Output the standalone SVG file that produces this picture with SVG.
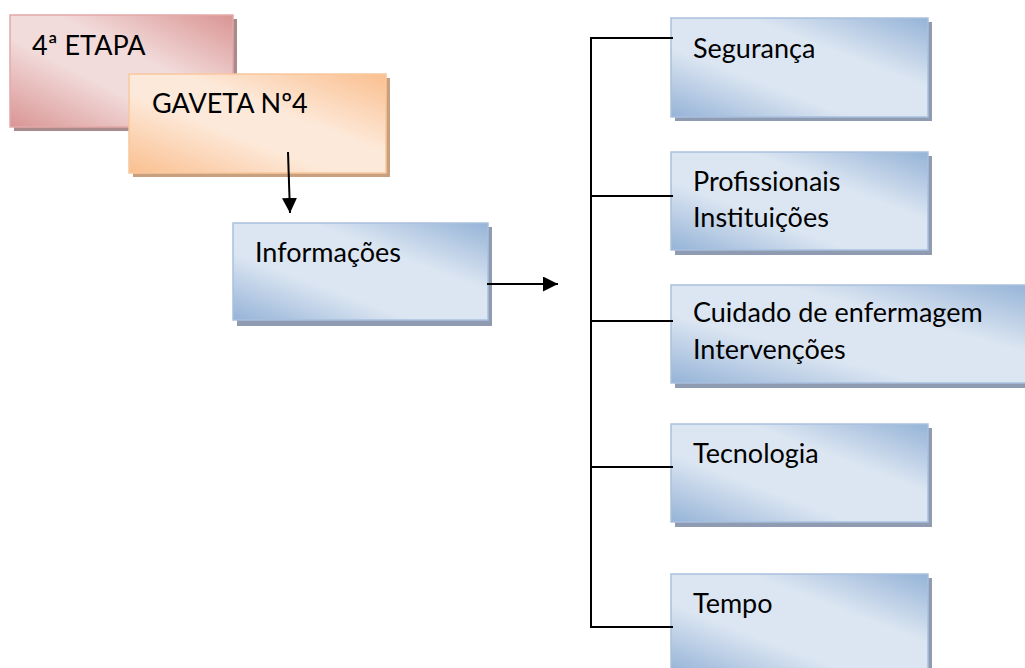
<svg xmlns="http://www.w3.org/2000/svg" width="1025" height="668" viewBox="0 0 1025 668">
<style>
  .t{font-family:Lato,"Liberation Sans",sans-serif;font-size:27px;fill:#000}
  .sb{fill:#8e9bb0}
  .sr{fill:#a98b8b}
  .so{fill:#c9a07e}
  .b{fill:url(#gb);stroke:#a9c0de;stroke-width:1.5}
  .r{fill:url(#gr);stroke:#e3a9a8;stroke-width:1.5}
  .o{fill:url(#go);stroke:#f8c89e;stroke-width:1.5}
  .c{fill:none;stroke:#000;stroke-width:2}
</style>
<defs>
  <linearGradient id="gb" x1="0" y1="1" x2="1" y2="0">
    <stop offset="0" stop-color="#95b3d7"/>
    <stop offset="0.35" stop-color="#dce6f2"/>
    <stop offset="0.65" stop-color="#dce6f2"/>
    <stop offset="1" stop-color="#95b3d7"/>
  </linearGradient>
  <linearGradient id="gr" x1="0" y1="1" x2="1" y2="0">
    <stop offset="0" stop-color="#d99594"/>
    <stop offset="0.4" stop-color="#f2dcdb"/>
    <stop offset="0.6" stop-color="#f2dcdb"/>
    <stop offset="1" stop-color="#d99594"/>
  </linearGradient>
  <linearGradient id="go" x1="0" y1="1" x2="1" y2="0">
    <stop offset="0" stop-color="#fabf8f"/>
    <stop offset="0.4" stop-color="#fde9d9"/>
    <stop offset="0.6" stop-color="#fde9d9"/>
    <stop offset="1" stop-color="#fabf8f"/>
  </linearGradient>
  <marker id="ah" viewBox="0 0 10 10" refX="10" refY="5" markerWidth="15" markerHeight="15" markerUnits="userSpaceOnUse" orient="auto">
    <path d="M0,0 L10,5 L0,10 z" fill="#000"/>
  </marker>
</defs>

<g id="etapa">
  <rect class="sr" x="14" y="19" width="223" height="112"/>
  <rect class="r" x="10" y="15" width="223" height="112"/>
  <text class="t" x="32" y="55">4ª ETAPA</text>
</g>
<g id="gaveta">
  <rect class="so" x="133" y="78" width="257" height="99"/>
  <rect class="o" x="129" y="74" width="257" height="99"/>
  <text class="t" x="152" y="113">GAVETA Nº4</text>
</g>
<g id="informacoes">
  <rect class="sb" x="237" y="227" width="255" height="99"/>
  <rect class="b" x="233" y="223" width="255" height="97"/>
  <text class="t" x="255" y="262">Informações</text>
</g>
<g id="seguranca">
  <rect class="sb" x="675" y="22" width="257" height="99"/>
  <rect class="b" x="671" y="18" width="257" height="99"/>
  <text class="t" x="693" y="58">Segurança</text>
</g>
<g id="profissionais">
  <rect class="sb" x="675" y="156" width="257" height="99"/>
  <rect class="b" x="671" y="152" width="257" height="98"/>
  <text class="t" x="693" y="191">Profissionais</text>
  <text class="t" x="693" y="227">Instituições</text>
</g>
<g id="cuidado">
  <rect class="sb" x="675" y="289" width="360" height="99"/>
  <rect class="b" x="671" y="285" width="360" height="98"/>
  <text class="t" x="693" y="322">Cuidado de enfermagem</text>
  <text class="t" x="693" y="359">Intervenções</text>
</g>
<g id="tecnologia">
  <rect class="sb" x="675" y="428" width="257" height="99"/>
  <rect class="b" x="671" y="424" width="257" height="98"/>
  <text class="t" x="693" y="463">Tecnologia</text>
</g>
<g id="tempo">
  <rect class="sb" x="675" y="578" width="257" height="99"/>
  <rect class="b" x="671" y="574" width="257" height="99"/>
  <text class="t" x="693" y="613">Tempo</text>
</g>

<g id="connectors">
  <line class="c" x1="288" y1="152" x2="290" y2="213" marker-end="url(#ah)"/>
  <line class="c" x1="487" y1="284" x2="558" y2="284" marker-end="url(#ah)"/>
  <path class="c" d="M673,38 H591 V627 H673 M591,196 H673 M591,321 H673 M591,467 H673"/>
</g>
</svg>
